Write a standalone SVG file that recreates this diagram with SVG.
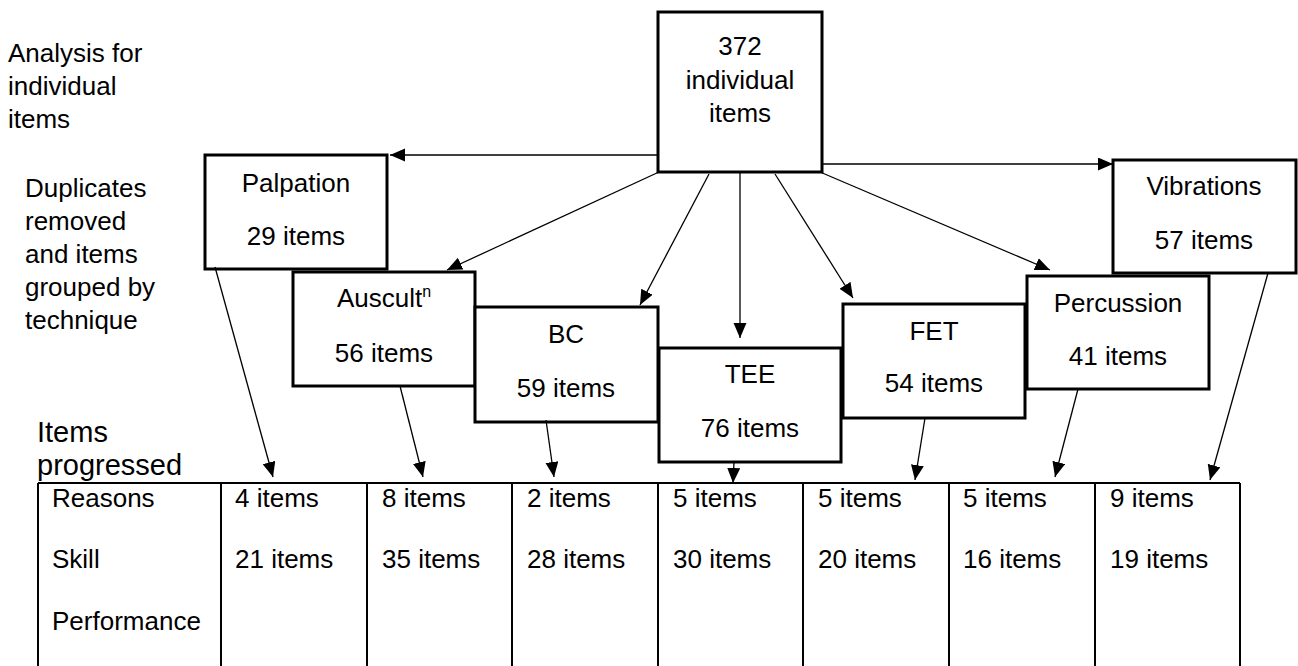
<svg xmlns="http://www.w3.org/2000/svg" width="1298" height="666" viewBox="0 0 1298 666">
<style>
text{font-family:"Liberation Sans",Arial,sans-serif;font-size:26px;fill:#000}
.c{text-anchor:middle}
.big{font-size:29px}
.box{fill:#fff;stroke:#000;stroke-width:3}
.con line{stroke:#000;stroke-width:1.3;marker-end:url(#ah)}
.tbl{fill:none;stroke:#000;stroke-width:2}
</style>
<defs>
<marker id="ah" markerUnits="userSpaceOnUse" markerWidth="16" markerHeight="14" refX="15" refY="6.5" orient="auto">
<path d="M0,0 L15,6.5 L0,13 z" fill="#000"/>
</marker>
</defs>
<rect width="1298" height="666" fill="#fff"/>
<g id="labels">
<text x="8" y="62">Analysis for</text>
<text x="8" y="95">individual</text>
<text x="8" y="128">items</text>
<text x="25" y="197">Duplicates</text>
<text x="25" y="230">removed</text>
<text x="25" y="263">and items</text>
<text x="25" y="296">grouped by</text>
<text x="25" y="329">technique</text>
<text class="big" x="37" y="442">Items</text>
<text class="big" x="37" y="475">progressed</text>
</g>
<g id="top">
<rect class="box" x="658" y="12" width="164" height="160"/>
<text class="c" x="740" y="55">372</text>
<text class="c" x="740" y="89">individual</text>
<text class="c" x="740" y="122">items</text>
</g>
<g id="palpation">
<rect class="box" x="205" y="155" width="182" height="114"/>
<text class="c" x="296" y="192">Palpation</text>
<text class="c" x="296" y="245">29 items</text>
</g>
<g id="auscultation">
<rect class="box" x="293" y="272" width="182" height="114"/>
<text class="c" x="384" y="307">Auscult<tspan font-size="16" dy="-10">n</tspan></text>
<text class="c" x="384" y="362">56 items</text>
</g>
<g id="bc">
<rect class="box" x="475" y="307" width="183" height="115"/>
<text class="c" x="566" y="343">BC</text>
<text class="c" x="566" y="397">59 items</text>
</g>
<g id="tee">
<rect class="box" x="659" y="348" width="182" height="114"/>
<text class="c" x="750" y="383">TEE</text>
<text class="c" x="750" y="437">76 items</text>
</g>
<g id="fet">
<rect class="box" x="843" y="304" width="182" height="114"/>
<text class="c" x="934" y="340">FET</text>
<text class="c" x="934" y="392">54 items</text>
</g>
<g id="percussion">
<rect class="box" x="1027" y="276" width="182" height="113"/>
<text class="c" x="1118" y="312">Percussion</text>
<text class="c" x="1118" y="365">41 items</text>
</g>
<g id="vibrations">
<rect class="box" x="1113" y="160" width="183" height="113"/>
<text class="c" x="1204" y="195">Vibrations</text>
<text class="c" x="1204" y="249">57 items</text>
</g>
<g id="table">
<path class="tbl" d="M38,483 H1240 M38,483 V667 M221,483 V667 M367,483 V667 M512,483 V667 M658,483 V667 M803,483 V667 M949,483 V667 M1095,483 V667 M1240,483 V667"/>
<text x="52" y="507">Reasons</text>
<text x="52" y="568">Skill</text>
<text x="52" y="630">Performance</text>
<text x="235" y="507">4 items</text>
<text x="235" y="568">21 items</text>
<text x="382" y="507">8 items</text>
<text x="382" y="568">35 items</text>
<text x="527" y="507">2 items</text>
<text x="527" y="568">28 items</text>
<text x="673" y="507">5 items</text>
<text x="673" y="568">30 items</text>
<text x="818" y="507">5 items</text>
<text x="818" y="568">20 items</text>
<text x="963" y="507">5 items</text>
<text x="963" y="568">16 items</text>
<text x="1110" y="507">9 items</text>
<text x="1110" y="568">19 items</text>
</g>
<g id="connectors" class="con">
<line x1="658" y1="155" x2="390" y2="155"/>
<line x1="822" y1="164" x2="1113" y2="164"/>
<line x1="659" y1="172" x2="447" y2="270"/>
<line x1="709" y1="174" x2="640" y2="305"/>
<line x1="740" y1="172" x2="740" y2="338"/>
<line x1="775" y1="174" x2="853" y2="298"/>
<line x1="820" y1="172" x2="1050" y2="270"/>
<line x1="215" y1="267" x2="273" y2="477"/>
<line x1="400" y1="386" x2="423" y2="477"/>
<line x1="546" y1="420" x2="554" y2="477"/>
<line x1="734" y1="462" x2="733" y2="483"/>
<line x1="925" y1="418" x2="915" y2="480"/>
<line x1="1078" y1="389" x2="1055" y2="477"/>
<line x1="1268" y1="273" x2="1210" y2="480"/>
</g>
</svg>
